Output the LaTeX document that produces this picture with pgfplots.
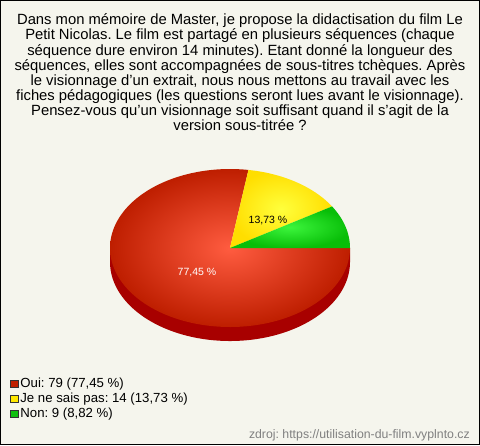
\documentclass[border=0pt]{standalone}
\usepackage{pgfplots}
\pgfplotsset{compat=1.18}
\usepackage{pgfplotstable}
\usepackage{fontspec}
\setmainfont{Liberation Sans}
\frenchspacing

\definecolor{bg}{RGB}{245,245,237}
\definecolor{ouiO}{RGB}{190,30,0}
\definecolor{ouiI}{RGB}{255,92,64}
\definecolor{ouiL}{RGB}{192,32,0}
\definecolor{jeO}{RGB}{255,222,0}
\definecolor{jeI}{RGB}{255,255,60}
\definecolor{jeL}{RGB}{255,232,0}
\definecolor{nonO}{RGB}{8,190,8}
\definecolor{nonI}{RGB}{60,245,60}
\definecolor{nonL}{RGB}{16,192,16}
\definecolor{side}{RGB}{168,0,0}

\pgfplotstableread{
label count
Oui 79
Je 14
Non 9
}\piedata
\pgfplotstablegetelem{0}{count}\of\piedata \let\cOui\pgfplotsretval
\pgfplotstablegetelem{1}{count}\of\piedata \let\cJe\pgfplotsretval
\pgfplotstablegetelem{2}{count}\of\piedata \let\cNon\pgfplotsretval
\pgfmathsetmacro\total{\cOui+\cJe+\cNon}
\pgfmathsetmacro\aA{\cNon/\total*360}
\pgfmathsetmacro\aB{\aA+\cJe/\total*360}

\begin{document}
\begin{tikzpicture}
\begin{axis}[
  at={(0,0)}, anchor=south west,
  width=480bp, height=445bp, scale only axis,
  xmin=0, xmax=480, ymin=0, ymax=445, y dir=reverse,
  axis lines=none, clip=false,
  legend image code/.code={\draw[#1] (0bp,-3.5bp) rectangle (7bp,3.5bp);},
  legend style={at={(axis cs:10.5,376.5)}, anchor=north west, draw=none, fill=none,
    inner sep=0pt, outer sep=0pt, row sep=0pt, column sep=0pt,
    font=\fontsize{13.2bp}{15bp}\selectfont,
    nodes={inner sep=0pt, text height=11bp, text depth=4bp},
    /tikz/every odd column/.append style={column sep=2.5bp}},
  legend cell align=left,
]
\fill[bg] (axis cs:0,0) rectangle (axis cs:480,445);
\draw[black, line width=1.2bp] (axis cs:0.6,0.6) rectangle (axis cs:479.4,444.4);

% side of the pie
\addplot[draw=none, fill=side, domain=180:360, samples=120, variable=\t, forget plot]
  ({230+120*cos(t)},{248-79*sin(t)+14}) -- (axis cs:350,248) -- (axis cs:110,248) -- cycle;
% Oui
\addplot[draw=none, inner color=ouiI, outer color=ouiO, domain=\aB:360, samples=150, variable=\t, forget plot]
  ({230+120*cos(t)},{248-79*sin(t)}) -- (axis cs:230,248) -- cycle;
% Je ne sais pas
\addplot[draw=none, inner color=jeI, outer color=jeO, domain=\aA:\aB, samples=40, variable=\t, forget plot]
  ({230+120*cos(t)},{248-79*sin(t)}) -- (axis cs:230,248) -- cycle;
% Non
\addplot[draw=none, inner color=nonI, outer color=nonO, domain=0:\aA, samples=30, variable=\t, forget plot]
  ({230+120*cos(t)},{248-79*sin(t)}) -- (axis cs:230,248) -- cycle;

\node[white, font=\fontsize{10.5bp}{12bp}\selectfont] at (axis cs:197,273) {77,45 \%};
\node[black, font=\fontsize{10.5bp}{12bp}\selectfont] at (axis cs:268,220) {13,73 \%};

\addlegendimage{fill=ouiL, draw=black!80}
\addlegendentry{Oui: 79 (77,45 \%)}
\addlegendimage{fill=jeL, draw=black!80}
\addlegendentry{Je ne sais pas: 14 (13,73 \%)}
\addlegendimage{fill=nonL, draw=black!80}
\addlegendentry{Non: 9 (8,82 \%)}

\begin{scope}[font=\fontsize{14.8bp}{15bp}\selectfont, every node/.style={inner sep=0pt}]
\node[anchor=base] at (axis cs:240,25) {Dans mon mémoire de Master, je propose la didactisation du film Le};
\node[anchor=base] at (axis cs:240,40) {Petit Nicolas. Le film est partagé en plusieurs séquences (chaque};
\node[anchor=base] at (axis cs:240,55) {séquence dure environ 14 minutes). Etant donné la longueur des};
\node[anchor=base] at (axis cs:240,70) {séquences, elles sont accompagnées de sous-titres tchèques. Après};
\node[anchor=base] at (axis cs:240,85) {le visionnage d’un extrait, nous nous mettons au travail avec les};
\node[anchor=base] at (axis cs:240,100) {fiches pédagogiques (les questions seront lues avant le visionnage).};
\node[anchor=base] at (axis cs:240,115) {Pensez-vous qu’un visionnage soit suffisant quand il s’agit de la};
\node[anchor=base] at (axis cs:240,130) {version sous-titrée ?};
\end{scope}
\node[anchor=base east, inner sep=0pt, text=black!50, font=\fontsize{12.3bp}{14bp}\selectfont] at (axis cs:470,438) {zdroj: https://utilisation-du-film.vyplnto.cz};
\end{axis}
\end{tikzpicture}
\end{document}
